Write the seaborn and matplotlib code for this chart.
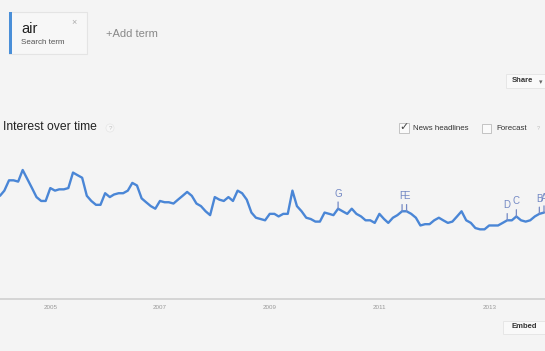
import matplotlib
matplotlib.use('Agg')
import matplotlib.pyplot as plt
import matplotlib.dates as mdates
from matplotlib.patches import Rectangle
import pandas as pd
import seaborn as sns

# monthly interest (peak = 100)
interest = [80, 84, 92, 92, 91, 100, 93, 86, 79, 76,
            76, 86, 84, 85, 85, 86, 98, 96, 94, 80,
            76, 73, 73, 82, 79, 81, 82, 82, 84, 90,
            88, 78, 75, 72, 70, 76, 75, 75, 74, 77,
            80, 83, 80, 74, 72, 68, 65, 79, 77, 76,
            79, 76, 84, 82, 77, 67, 63, 62, 61, 66,
            66, 64, 66, 66, 84, 72, 68, 63, 62, 60,
            60, 67, 66, 65, 70, 68, 66, 70, 66, 64,
            61, 61, 59, 66, 62, 59, 63, 65, 68, 68,
            66, 63, 57, 58, 58, 61, 63, 61, 59, 60,
            64, 68, 61, 59, 55, 54, 54, 57, 57, 57,
            59, 61, 61, 64, 61, 60, 61, 64, 66, 67]
start_month = '2004-02-01'
year_labels = [2005, 2007, 2009, 2011, 2013]
headline_letters = ['G', 'F', 'E', 'D', 'C', 'B', 'A']
headline_months = ['2010-04-01', '2011-06-01', '2011-07-01', '2013-05-01',
                   '2013-07-01', '2013-12-01', '2014-01-01']

W, H = 545, 351
BG = '#f4f4f4'
BLUE = '#4a86d6'
MARK = '#7489c4'

sns.set_style('white', {'axes.facecolor': BG, 'figure.facecolor': BG})
plt.rcParams['font.family'] = ['Liberation Sans', 'DejaVu Sans']

months = pd.date_range(start_month, periods=len(interest), freq='MS')
df = pd.DataFrame({'month': months, 'interest': interest})


def fx(x):
    return x / W


def fy(y):
    return 1 - y / H


fig = plt.figure(figsize=(W / 100, H / 100), dpi=100)

# chart area: baseline at y=299, value 100 at y=170
ax = fig.add_axes([0, fy(299), 1, (299 - 150) / H])
sns.lineplot(data=df, x='month', y='interest', ax=ax, color=BLUE,
             linewidth=1.7, clip_on=False)
ax.set_ylim(0, (299 - 150) / 1.29)
x0 = mdates.date2num(months[0])
span = mdates.date2num(months[-1]) - x0
ax.set_xlim(x0, x0 + span * 545 / 544)
ax.set_xlabel('')
ax.set_ylabel('')
ax.set_yticks([])
ax.set_xticks([mdates.date2num(pd.Timestamp(f'{y}-01-01')) for y in year_labels])
ax.set_xticklabels([str(y) for y in year_labels])
ax.tick_params(axis='x', length=0, pad=4, labelsize=4.5, labelcolor='#999999')
for s in ['top', 'left', 'right']:
    ax.spines[s].set_visible(False)
ax.spines['bottom'].set_color('#cfcfcf')
ax.spines['bottom'].set_linewidth(1.2)

# news headline markers
val_by_month = dict(zip(df['month'], df['interest']))
for letter, m in zip(headline_letters, headline_months):
    t = pd.Timestamp(m)
    ax.annotate(letter, xy=(t, val_by_month[t]), xytext=(0, 10),
                textcoords='offset pixels', ha='center', va='bottom',
                fontsize=7, color=MARK, annotation_clip=False,
                arrowprops=dict(arrowstyle='-', color=MARK, lw=0.9,
                                shrinkA=0, shrinkB=0))

# search term box
fig.patches.append(Rectangle((fx(9), fy(54)), fx(78), 42 / H,
                             transform=fig.transFigure, facecolor='#f7f7f7',
                             edgecolor='#e4e4e4', linewidth=0.8))
fig.patches.append(Rectangle((fx(9), fy(54)), fx(2.5), 42 / H,
                             transform=fig.transFigure, facecolor='#4a8fd8',
                             edgecolor='none'))
fig.text(fx(21), fy(29), 'air', fontsize=10.5, color='#222222', va='center')
fig.text(fx(21), fy(42), 'Search term', fontsize=5.8, color='#555555', va='center')
fig.text(fx(74), fy(23), '×', fontsize=6.5, color='#aaaaaa', ha='center', va='center')
fig.text(fx(106), fy(34), '+Add term', fontsize=8, color='#888888', va='center')

# share button
fig.patches.append(Rectangle((fx(506), fy(88)), fx(41), 14 / H,
                             transform=fig.transFigure, facecolor='#f9f9f9',
                             edgecolor='#e4e4e4', linewidth=0.6))
fig.text(fx(512), fy(81), 'Share', fontsize=5.5, color='#333333',
         va='center', fontweight='bold')
fig.text(fx(539), fy(82), '▾', fontsize=5, color='#666666', va='center',
         family=['DejaVu Sans'])

# title row
fig.text(fx(3), fy(127), 'Interest over time', fontsize=8.7, color='#222222',
         va='center')
fig.text(fx(110), fy(128), '?', fontsize=4.5, color='#bbbbbb', ha='center',
         va='center', bbox=dict(boxstyle='circle,pad=0.25', facecolor='#f7f7f7',
                                edgecolor='#e6e6e6', linewidth=0.5))

# checkboxes
fig.patches.append(Rectangle((fx(399), fy(133)), fx(10), 10 / H,
                             transform=fig.transFigure, facecolor='#fafafa',
                             edgecolor='#bbbbbb', linewidth=0.6))
fig.text(fx(404.5), fy(127), '✓', fontsize=8, color='#444444', ha='center',
         va='center', family=['DejaVu Sans'])
fig.text(fx(413), fy(128.5), 'News headlines', fontsize=5.7, color='#333333',
         va='center')
fig.patches.append(Rectangle((fx(482), fy(133)), fx(9), 9 / H,
                             transform=fig.transFigure, facecolor='#fafafa',
                             edgecolor='#bbbbbb', linewidth=0.6))
fig.text(fx(496), fy(128.5), 'Forecast', fontsize=5.7, color='#333333',
         va='center')
fig.text(fx(538), fy(128.5), '?', fontsize=4, color='#bbbbbb', ha='center',
         va='center')

# embed button
fig.patches.append(Rectangle((fx(503), fy(334)), fx(44), 13 / H,
                             transform=fig.transFigure, facecolor='#f9f9f9',
                             edgecolor='#e4e4e4', linewidth=0.6))
fig.text(fx(524), fy(327), 'Embed', fontsize=5.5, color='#333333',
         ha='center', va='center', fontweight='bold')

fig.savefig('out.png', dpi=100, facecolor=BG)
